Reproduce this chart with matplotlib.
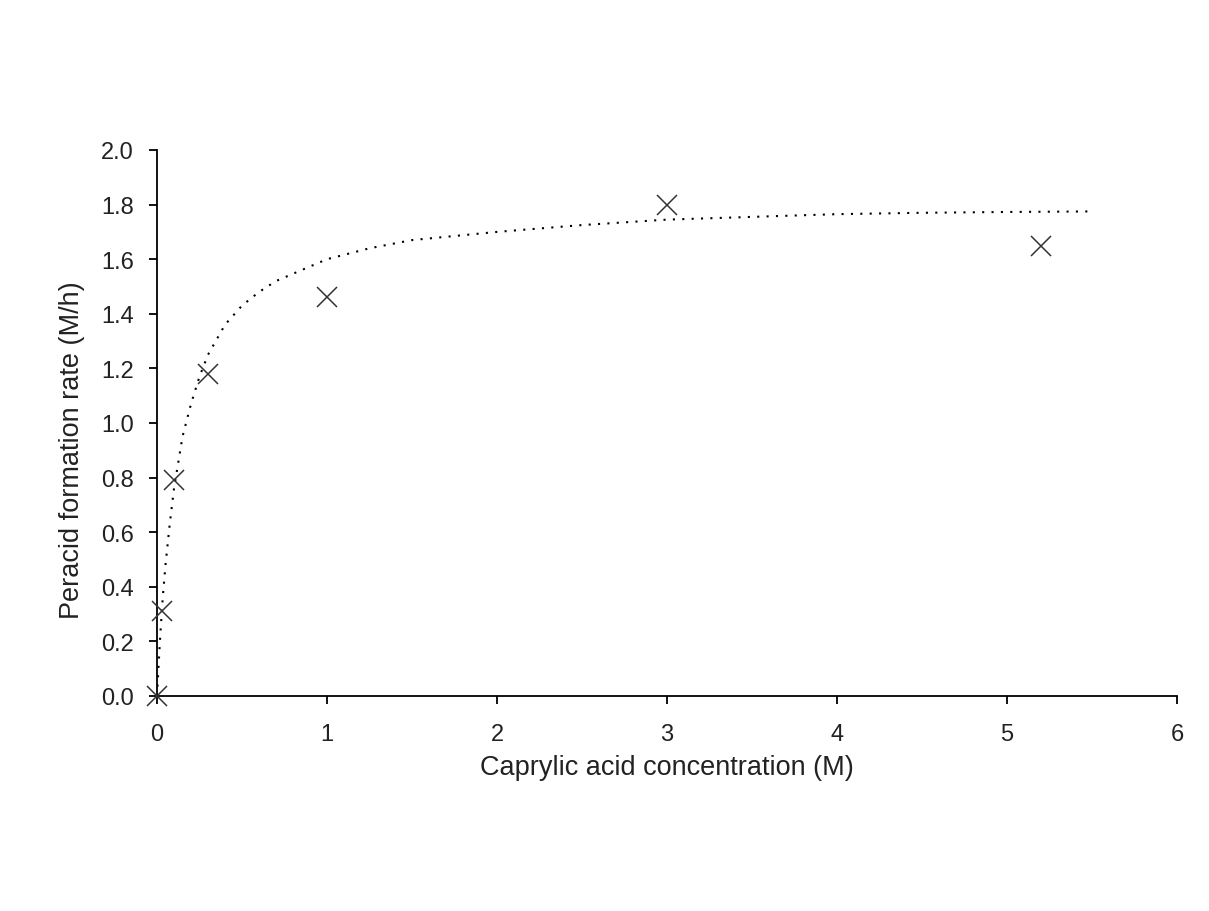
import matplotlib
matplotlib.use("Agg")
import matplotlib.pyplot as plt

plt.rcParams['font.family'] = ['Liberation Sans', 'DejaVu Sans']

# measured data points
conc = [0.0, 0.03, 0.1, 0.3, 1.0, 3.0, 5.2]
rate = [0.0, 0.31, 0.79, 1.18, 1.46, 1.80, 1.65]

# dotted trend curve
curve_x = [0.0, 0.01, 0.02, 0.035, 0.05, 0.075, 0.1, 0.15, 0.2, 0.25, 0.3, 0.4, 0.5,
           0.6, 0.7, 0.85, 1.0, 1.25, 1.5, 2.0, 2.5, 3.0, 3.5, 4.0, 4.5, 5.0, 5.5]
curve_y = [0.0, 0.12, 0.23, 0.37, 0.48, 0.63, 0.76, 0.95, 1.07, 1.17, 1.25, 1.36, 1.43,
           1.48, 1.52, 1.56, 1.60, 1.64, 1.67, 1.70, 1.725, 1.745, 1.755, 1.765, 1.77, 1.773, 1.775]

xticks = [0, 1, 2, 3, 4, 5, 6]
yticks = [0.0, 0.2, 0.4, 0.6, 0.8, 1.0, 1.2, 1.4, 1.6, 1.8, 2.0]

fig = plt.figure(figsize=(12.09, 9.12), dpi=100)
ax = fig.add_axes([157/1209, 1-697/912, (1177-157)/1209, (697-151)/912])

ax.plot(curve_x, curve_y, color='black', lw=1.5, linestyle=(0, (1, 3.5)), zorder=2)
ax.plot(conc, rate, linestyle='none', marker='x', markersize=14, markeredgewidth=1.1,
        color='#333333', clip_on=False, zorder=3)

ax.set_xlim(0, 6)
ax.set_ylim(0, 2.0)
ax.set_xticks(xticks)
ax.set_xticklabels([str(t) for t in xticks])
ax.set_yticks(yticks)
ax.set_yticklabels([f"{t:.1f}" for t in yticks])

for s in ['top', 'right']:
    ax.spines[s].set_visible(False)
for s in ['left', 'bottom']:
    ax.spines[s].set_linewidth(1.3)
    ax.spines[s].set_color('black')

ax.tick_params(axis='both', direction='out', length=5.5, width=1.3, labelsize=17,
               colors='black', labelcolor='#222222')
ax.tick_params(axis='y', pad=11)
ax.tick_params(axis='x', pad=14)

ax.set_xlabel('Caprylic acid concentration (M)', fontsize=19.5, color='#222222')
ax.set_ylabel('Peracid formation rate (M/h)', fontsize=19.5, color='#222222')
ax.xaxis.set_label_coords(0.5, -0.130)
ax.yaxis.set_label_coords(-0.083, 0.452)
ax.xaxis.label.set_va('center')
ax.yaxis.label.set_va('center')

fig.savefig('out.png', dpi=100, facecolor='white')
